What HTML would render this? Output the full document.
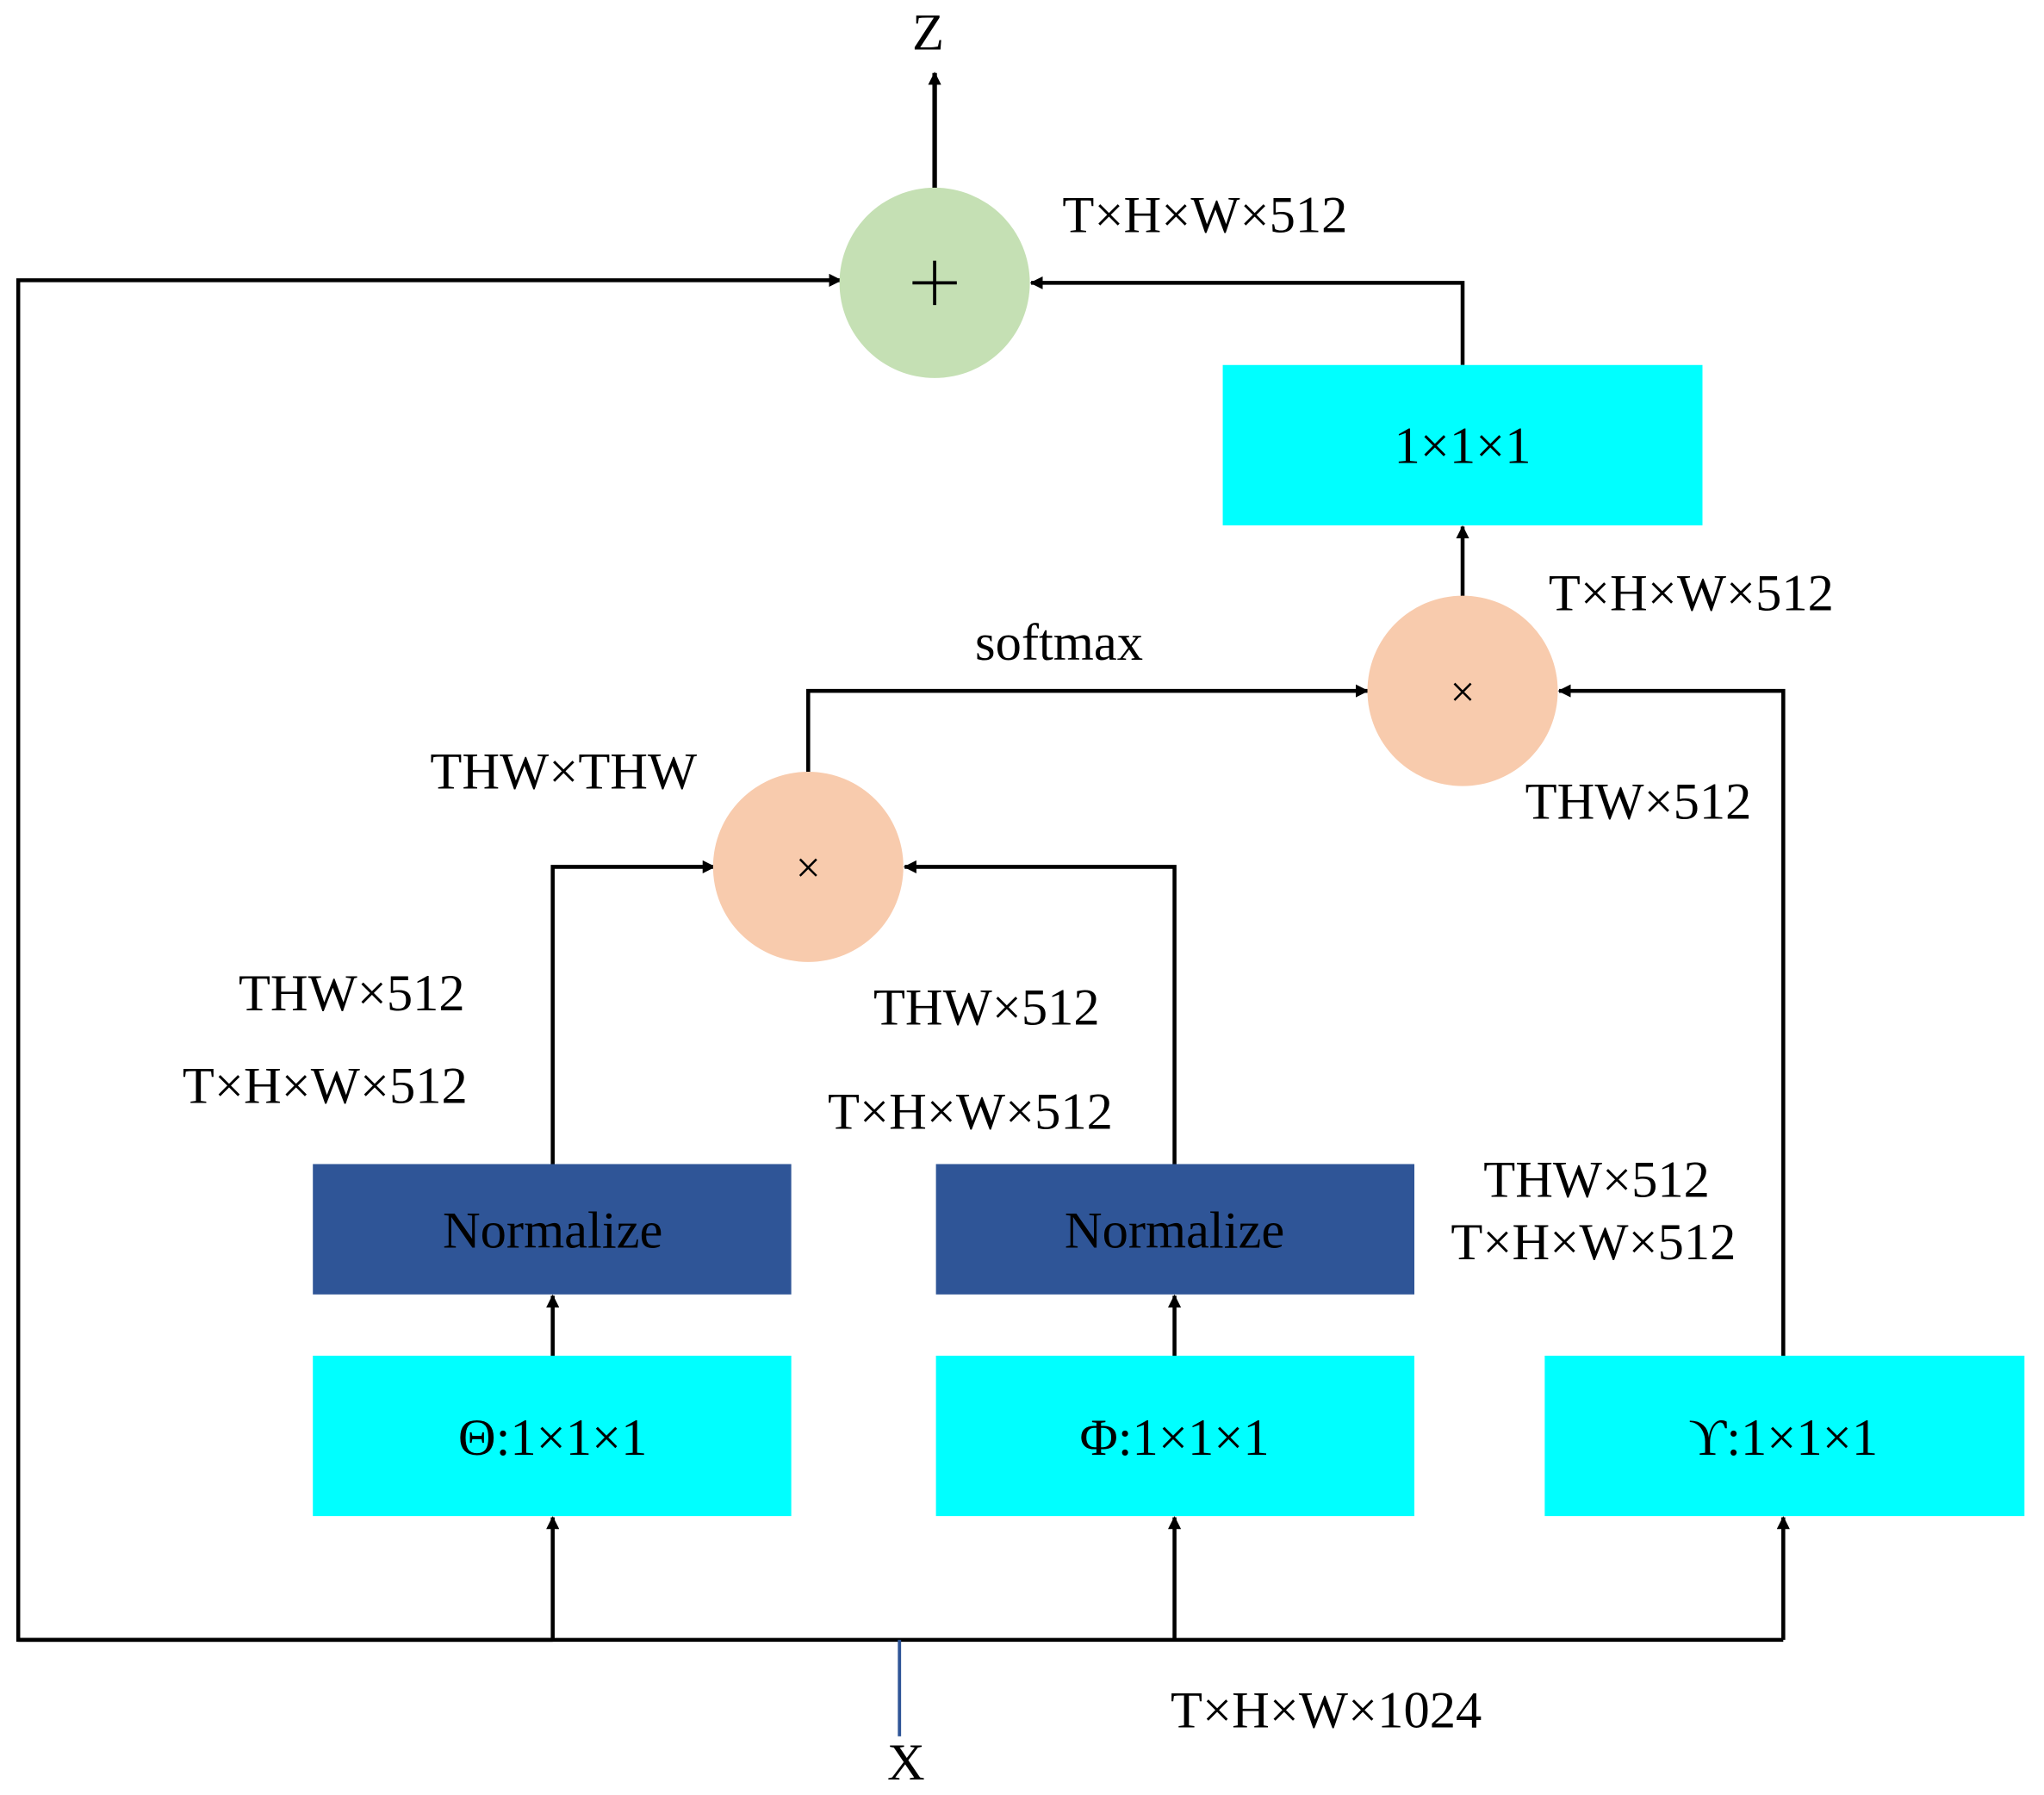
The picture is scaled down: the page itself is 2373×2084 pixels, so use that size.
<!DOCTYPE html>
<html><head><meta charset="utf-8"><style>
html,body{margin:0;padding:0;background:#fff;}
svg{display:block;}
text{font-family:"Liberation Serif",serif;fill:#000;}
</style></head><body>
<svg width="2373" height="2084" viewBox="0 0 1568 1377" preserveAspectRatio="none" xmlns="http://www.w3.org/2000/svg">
<defs>
<marker id="a" markerWidth="10" markerHeight="10" refX="9" refY="5" orient="auto" markerUnits="userSpaceOnUse" viewBox="0 0 10 10">
<path d="M0,0 L10,5 L0,10 z" fill="#000"/>
</marker>
</defs>
<g stroke="#000" stroke-width="3" fill="none">
<!-- Z output -->
<line x1="717" y1="145" x2="717" y2="56" marker-end="url(#a)" stroke-width="3.5"/>
<!-- left skip -->
<polyline points="424,1258 14,1258 14,215 645,215" marker-end="url(#a)"/>
<!-- right into plus -->
<polyline points="1122,280 1122,217 791,217" marker-end="url(#a)"/>
<line x1="1122" y1="458" x2="1122" y2="404" marker-end="url(#a)"/>
<polyline points="620,593 620,530 1049,530" marker-end="url(#a)"/>
<polyline points="1368,1040 1368,530 1196,530" marker-end="url(#a)"/>
<polyline points="424,893 424,665 548,665" marker-end="url(#a)"/>
<polyline points="901,893 901,665 694,665" marker-end="url(#a)"/>
<line x1="424" y1="1040" x2="424" y2="994" marker-end="url(#a)"/>
<line x1="901" y1="1040" x2="901" y2="994" marker-end="url(#a)"/>
<line x1="14" y1="1258" x2="1368" y2="1258"/>
<line x1="424" y1="1258" x2="424" y2="1164" marker-end="url(#a)"/>
<line x1="901" y1="1258" x2="901" y2="1164" marker-end="url(#a)"/>
<line x1="1368" y1="1258" x2="1368" y2="1164" marker-end="url(#a)"/>
</g>
<line x1="690" y1="1258" x2="690" y2="1332" stroke="#2f5597" stroke-width="2.5"/>
<circle cx="717" cy="217" r="73" fill="#c5e0b4"/>
<circle cx="1122" cy="530" r="73" fill="#f8cbad"/>
<circle cx="620" cy="665" r="73" fill="#f8cbad"/>
<g stroke="#000" stroke-width="2.5">
<line x1="700" y1="217" x2="734" y2="217"/><line x1="717" y1="200" x2="717" y2="234"/>
</g>
<text x="1122" y="542" font-size="34" text-anchor="middle" font-family="Liberation Sans">×</text>
<text x="620" y="677" font-size="34" text-anchor="middle" font-family="Liberation Sans">×</text>
<rect x="938" y="280" width="368" height="123" fill="#00ffff"/>
<rect x="240" y="893" width="367" height="100" fill="#2f5597"/>
<rect x="718" y="893" width="367" height="100" fill="#2f5597"/>
<rect x="240" y="1040" width="367" height="123" fill="#00ffff"/>
<rect x="718" y="1040" width="367" height="123" fill="#00ffff"/>
<rect x="1185" y="1040" width="368" height="123" fill="#00ffff"/>
<g font-size="40">
<text x="1122" y="355" text-anchor="middle">1×1×1</text>
<text x="424" y="957" text-anchor="middle">Normalize</text>
<text x="901" y="957" text-anchor="middle">Normalize</text>
<text x="424" y="1116" text-anchor="middle">Θ:1×1×1</text>
<text x="901" y="1116" text-anchor="middle">Φ:1×1×1</text>
<text x="1368" y="1116" text-anchor="middle">ϒ:1×1×1</text>
<text x="712" y="38" text-anchor="middle">Z</text>
<text x="695" y="1365" text-anchor="middle">X</text>
<text x="815" y="178">T×H×W×512</text>
<text x="1188" y="468">T×H×W×512</text>
<text x="748" y="506">softmax</text>
<text x="1170" y="628">THW×512</text>
<text x="330" y="605">THW×THW</text>
<text x="183" y="775">THW×512</text>
<text x="140" y="846">T×H×W×512</text>
<text x="670" y="786">THW×512</text>
<text x="635" y="866">T×H×W×512</text>
<text x="1138" y="918">THW×512</text>
<text x="1113" y="966">T×H×W×512</text>
<text x="898" y="1325">T×H×W×1024</text>
</g>
</svg>
</body></html>
